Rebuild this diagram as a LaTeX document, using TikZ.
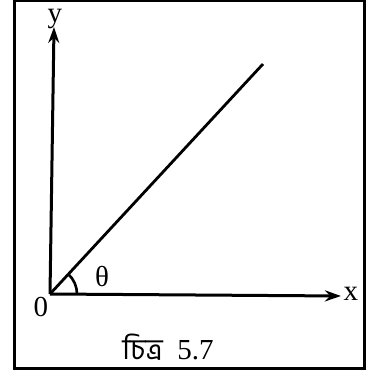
\documentclass[tikz,border=0pt]{standalone}
\usepackage{fontspec}
\setmainfont{Liberation Serif}
\newfontfamily\bnfont[Script=Bengali]{Hind Siliguri}
\usetikzlibrary{arrows.meta,angles}

\begin{document}
\begin{tikzpicture}[x=1pt, y=1pt, font=\fontsize{29}{33}\selectfont,
  axis/.style={line width=3pt, -{Stealth[length=16pt,width=11pt]}},
  ray/.style={line width=2.8pt}]
\useasboundingbox (0,0) rectangle (369,376);
\draw[line width=3pt] (14,8) rectangle (364,375);
\coordinate (O) at (50,82);
\coordinate (xe) at (341,80);
\coordinate (ye) at (54,349);
\coordinate (re) at (263,312);
\draw[axis] (O) -- (xe);
\draw[axis] (O) -- (ye);
\draw[ray] (O) -- (re);
\pic[draw, line width=2.6pt, angle radius=27pt] {angle = xe--O--re};
\node (xlab) at (351,82) {x};
\node (ylab) at (55,357) {y};
\node (olab) at (41,69) {0};
\node (tlab) at (102,99) {θ};
\node (cap) at (168,29) {{\bnfont\fontsize{29}{33}\selectfont চিত্র}\ \ 5.7};
\end{tikzpicture}
\end{document}
